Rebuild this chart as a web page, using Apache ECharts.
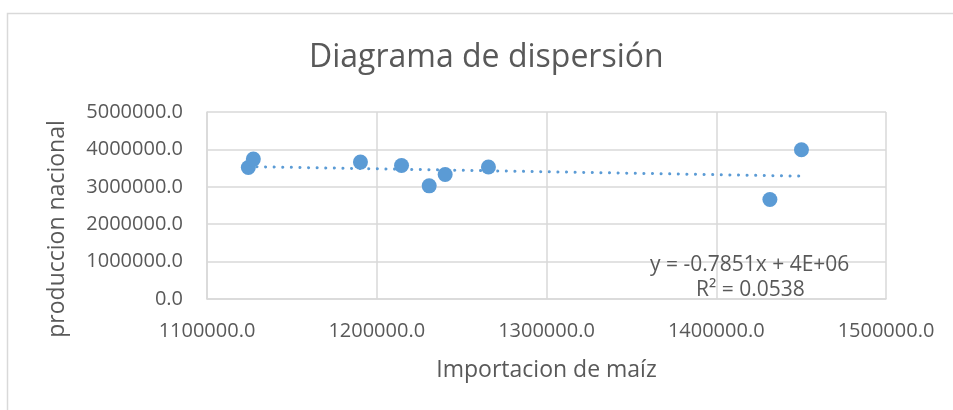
<!DOCTYPE html>
<html>
<head>
<meta charset="utf-8">
<script src="https://cdn.jsdelivr.net/npm/echarts@6/dist/echarts.min.js"></script>
<style>
html, body { margin: 0; padding: 0; background: #fff; }
#chart { width: 953px; height: 410px; }
</style>
</head>
<body>
<div id="chart"></div>
<script>
// importacion de maiz (x) vs produccion nacional (y)
var importacion = [1124350, 1127300, 1190400, 1214600, 1230900, 1240300, 1265800, 1431600, 1450200];
var produccion = [3515000, 3740000, 3660000, 3570000, 3025000, 3330000, 3530000, 2660000, 3990000];

// linea de tendencia (extremos)
var trendX = [1124350, 1450200];
var trendY = [3540000, 3285000];

var ecuacion = 'y = -0.7851x + 4E+06';
var r2 = 'R² = 0.0538';

var font = '"Open Sans", "Liberation Sans", sans-serif';
var gris = '#595959';

var puntos = importacion.map(function (x, i) {
	return [x, produccion[i]];
});
var tendencia = trendX.map(function (x, i) {
	return [x, trendY[i]];
});

var myChart = echarts.init(document.getElementById('chart'));
var option = {
	animation: false,
	backgroundColor: '#fff',
	title: {
		text: 'Diagrama de dispersión',
		left: 304,
		top: 37,
		textStyle: {
			fontFamily: font,
			fontSize: 32,
			fontWeight: 'normal',
			color: gris
		}
	},
	graphic: [
		{
			type: 'rect',
			shape: { x: 7.5, y: 13.5, width: 1000, height: 500 },
			style: { fill: 'none', stroke: '#d9d9d9', lineWidth: 1.5 },
			silent: true,
			z: -1
		},
		{
			// nombre del eje y
			type: 'text',
			x: 57,
			y: 229,
			rotation: Math.PI / 2,
			style: {
				text: 'produccion nacional',
				fontFamily: font,
				fontSize: 23,
				fill: gris,
				align: 'center',
				verticalAlign: 'middle'
			}
		},
		{
			type: 'text',
			left: 650,
			top: 255,
			style: {
				text: ecuacion,
				fontFamily: font,
				fontSize: 21,
				fill: gris
			},
			z: 10
		},
		{
			type: 'text',
			left: 696,
			top: 280,
			style: {
				text: r2,
				fontFamily: font,
				fontSize: 21,
				fill: gris
			},
			z: 10
		}
	],
	grid: {
		left: 207,
		right: 67,
		top: 112,
		bottom: 111
	},
	xAxis: {
		type: 'value',
		min: 1100000,
		max: 1500000,
		interval: 100000,
		name: 'Importacion de maíz',
		nameLocation: 'middle',
		nameGap: 60,
		nameTextStyle: { fontFamily: font, fontSize: 23, color: gris },
		axisLine: { show: true, lineStyle: { color: '#d9d9d9', width: 1.5 } },
		axisTick: { show: false },
		axisLabel: {
			fontFamily: font,
			fontSize: 20,
			color: gris,
			margin: 22,
			formatter: function (v) { return v.toFixed(1); }
		},
		splitLine: { show: true, lineStyle: { color: '#d9d9d9', width: 1.5 } }
	},
	yAxis: {
		type: 'value',
		min: 0,
		max: 5000000,
		interval: 1000000,
		axisLine: { show: true, lineStyle: { color: '#d9d9d9', width: 1.5 } },
		axisTick: { show: false },
		axisLabel: {
			fontFamily: font,
			fontSize: 20,
			color: gris,
			margin: 24,
			formatter: function (v) { return v.toFixed(1); }
		},
		splitLine: { show: true, lineStyle: { color: '#d9d9d9', width: 1.5 } }
	},
	series: [
		{
			name: 'tendencia',
			type: 'line',
			data: tendencia,
			symbol: 'none',
			lineStyle: {
				color: '#5b9bd5',
				width: 3,
				type: [0.1, 8.5],
				cap: 'round'
			},
			z: 2
		},
		{
			name: 'produccion',
			type: 'scatter',
			data: puntos,
			symbolSize: 15,
			itemStyle: { color: '#5b9bd5', opacity: 1 },
			z: 3
		}
	]
};
myChart.setOption(option);
</script>
</body>
</html>
